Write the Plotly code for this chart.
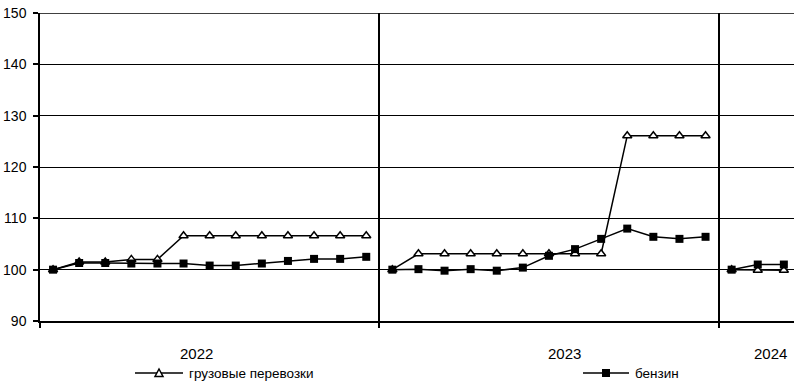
import plotly.graph_objects as go

# ---- data ----
years = ["2022", "2023", "2024"]
points_per_year = [13, 13, 3]
year_label_pos = [5.5, 19.6, 27.5]

trucking = [
    [100, 101.5, 101.5, 102.0, 102.0, 106.6, 106.6, 106.6, 106.6, 106.6, 106.6, 106.6, 106.6],
    [100, 103.1, 103.1, 103.1, 103.1, 103.1, 103.1, 103.1, 103.1, 126.1, 126.1, 126.1, 126.1],
    [100, 99.9, 99.9],
]
petrol = [
    [100, 101.3, 101.3, 101.2, 101.2, 101.2, 100.8, 100.8, 101.2, 101.7, 102.1, 102.1, 102.5],
    [100, 100.1, 99.8, 100.1, 99.8, 100.4, 102.7, 104.0, 106.0, 108.0, 106.4, 106.0, 106.4],
    [100, 101.0, 101.0],
]
y_ticks = [90, 100, 110, 120, 130, 140, 150]
series_names = ["грузовые перевозки", "бензин"]

FONT = "Arial, 'Liberation Sans', sans-serif"
W, H = 794, 391
# plot area in screen pixels
P_LEFT, P_TOP, P_BOTTOM, P_RIGHT = 40, 13, 321, 794
ML, MT = P_LEFT, P_TOP
MR, MB = W - P_RIGHT, H - P_BOTTOM
PW, PH = W - ML - MR, H - MT - MB


def build_xy(groups):
    xs, ys = [], []
    idx = 0
    for g in groups:
        for v in g:
            xs.append(idx)
            ys.append(v)
            idx += 1
        xs.append(None)
        ys.append(None)
    return xs, ys


boundaries = []
acc = 0
for n in points_per_year:
    boundaries.append(acc - 0.5)
    acc += n

fig = go.Figure()
xt, yt = build_xy(trucking)
fig.add_trace(go.Scatter(
    x=xt, y=yt, mode="lines+markers", name=series_names[0],
    line=dict(color="black", width=1.5),
    marker=dict(symbol="triangle-up", size=8, color="white",
                line=dict(color="black", width=1.5)),
    connectgaps=False, showlegend=False, cliponaxis=False))
xp, yp = build_xy(petrol)
fig.add_trace(go.Scatter(
    x=xp, y=yp, mode="lines+markers", name=series_names[1],
    line=dict(color="black", width=1.5),
    marker=dict(symbol="square", size=8, color="black",
                line=dict(color="black", width=0)),
    connectgaps=False, showlegend=False, cliponaxis=False))


def px2paper_x(px):
    return (px - P_LEFT) / PW


def px2paper_y(py):
    return (P_BOTTOM - py) / PH


shapes = []
annotations = []
# top border gridline at max tick
shapes.append(dict(type="line", xref="paper", yref="y", x0=0, x1=1,
                   y0=y_ticks[-1], y1=y_ticks[-1], layer="below",
                   line=dict(color="black", width=1.5)))
# year labels
for lbl, pos in zip(years, year_label_pos):
    annotations.append(dict(x=pos, xref="x", y=px2paper_y(353), yref="paper",
                            text=lbl, showarrow=False, xanchor="center", yanchor="middle",
                            font=dict(family=FONT, size=15, color="black")))

# manual legend
leg_y = px2paper_y(373)
legend_items = [
    (135, 183, "triangle"),
    (583, 629, "square"),
]
for (x0, x1, kind), name in zip(legend_items, series_names):
    shapes.append(dict(type="line", xref="paper", yref="paper",
                       x0=px2paper_x(x0), x1=px2paper_x(x1), y0=leg_y, y1=leg_y,
                       line=dict(color="black", width=1.5)))
    cx = px2paper_x((x0 + x1) / 2)
    if kind == "square":
        shapes.append(dict(type="rect", xref="paper", yref="paper",
                           xsizemode="pixel", ysizemode="pixel",
                           xanchor=cx, yanchor=leg_y,
                           x0=-4, x1=4, y0=-4, y1=4,
                           fillcolor="black", line=dict(color="black", width=0)))
    else:
        shapes.append(dict(type="path", xref="paper", yref="paper",
                           xsizemode="pixel", ysizemode="pixel",
                           xanchor=cx, yanchor=leg_y,
                           path="M -4,-3.5 L 4,-3.5 L 0,4 Z",
                           fillcolor="white", line=dict(color="black", width=1.5)))
    annotations.append(dict(x=px2paper_x(x1 + 4), xref="paper", y=leg_y, yref="paper",
                            text=name, showarrow=False, xanchor="left", yanchor="middle",
                            font=dict(family=FONT, size=13.5, color="black")))

fig.update_layout(
    width=W, height=H,
    margin=dict(l=ML, r=MR, t=MT, b=MB, pad=0, autoexpand=False),
    paper_bgcolor="white", plot_bgcolor="white",
    font=dict(family=FONT, color="black"),
    shapes=shapes, annotations=annotations,
    showlegend=False,
)
fig.update_xaxes(
    range=[-0.5, -0.5 + PW / 26.1],
    tickvals=boundaries, ticktext=["" for _ in boundaries],
    ticks="outside", ticklen=5, tickcolor="black", tickwidth=1.5,
    showgrid=True, gridcolor="black", gridwidth=1.5,
    showline=True, linecolor="black", linewidth=1.5,
    zeroline=False, fixedrange=True, automargin=False,
)
fig.update_yaxes(
    range=[90, 150], tickvals=y_ticks, ticktext=[str(v) for v in y_ticks],
    ticks="outside", ticklen=5, tickcolor="black", tickwidth=1.5,
    showgrid=True, gridcolor="black", gridwidth=1.2,
    showline=True, linecolor="black", linewidth=1.5,
    zeroline=False, tickfont=dict(family=FONT, size=14, color="black"),
    ticklabelstandoff=4,
    fixedrange=True, automargin=False,
)

fig.write_html("out.html",
               config={"displayModeBar": False},
               post_script="document.body.style.margin='0';document.body.style.overflow='hidden';")
